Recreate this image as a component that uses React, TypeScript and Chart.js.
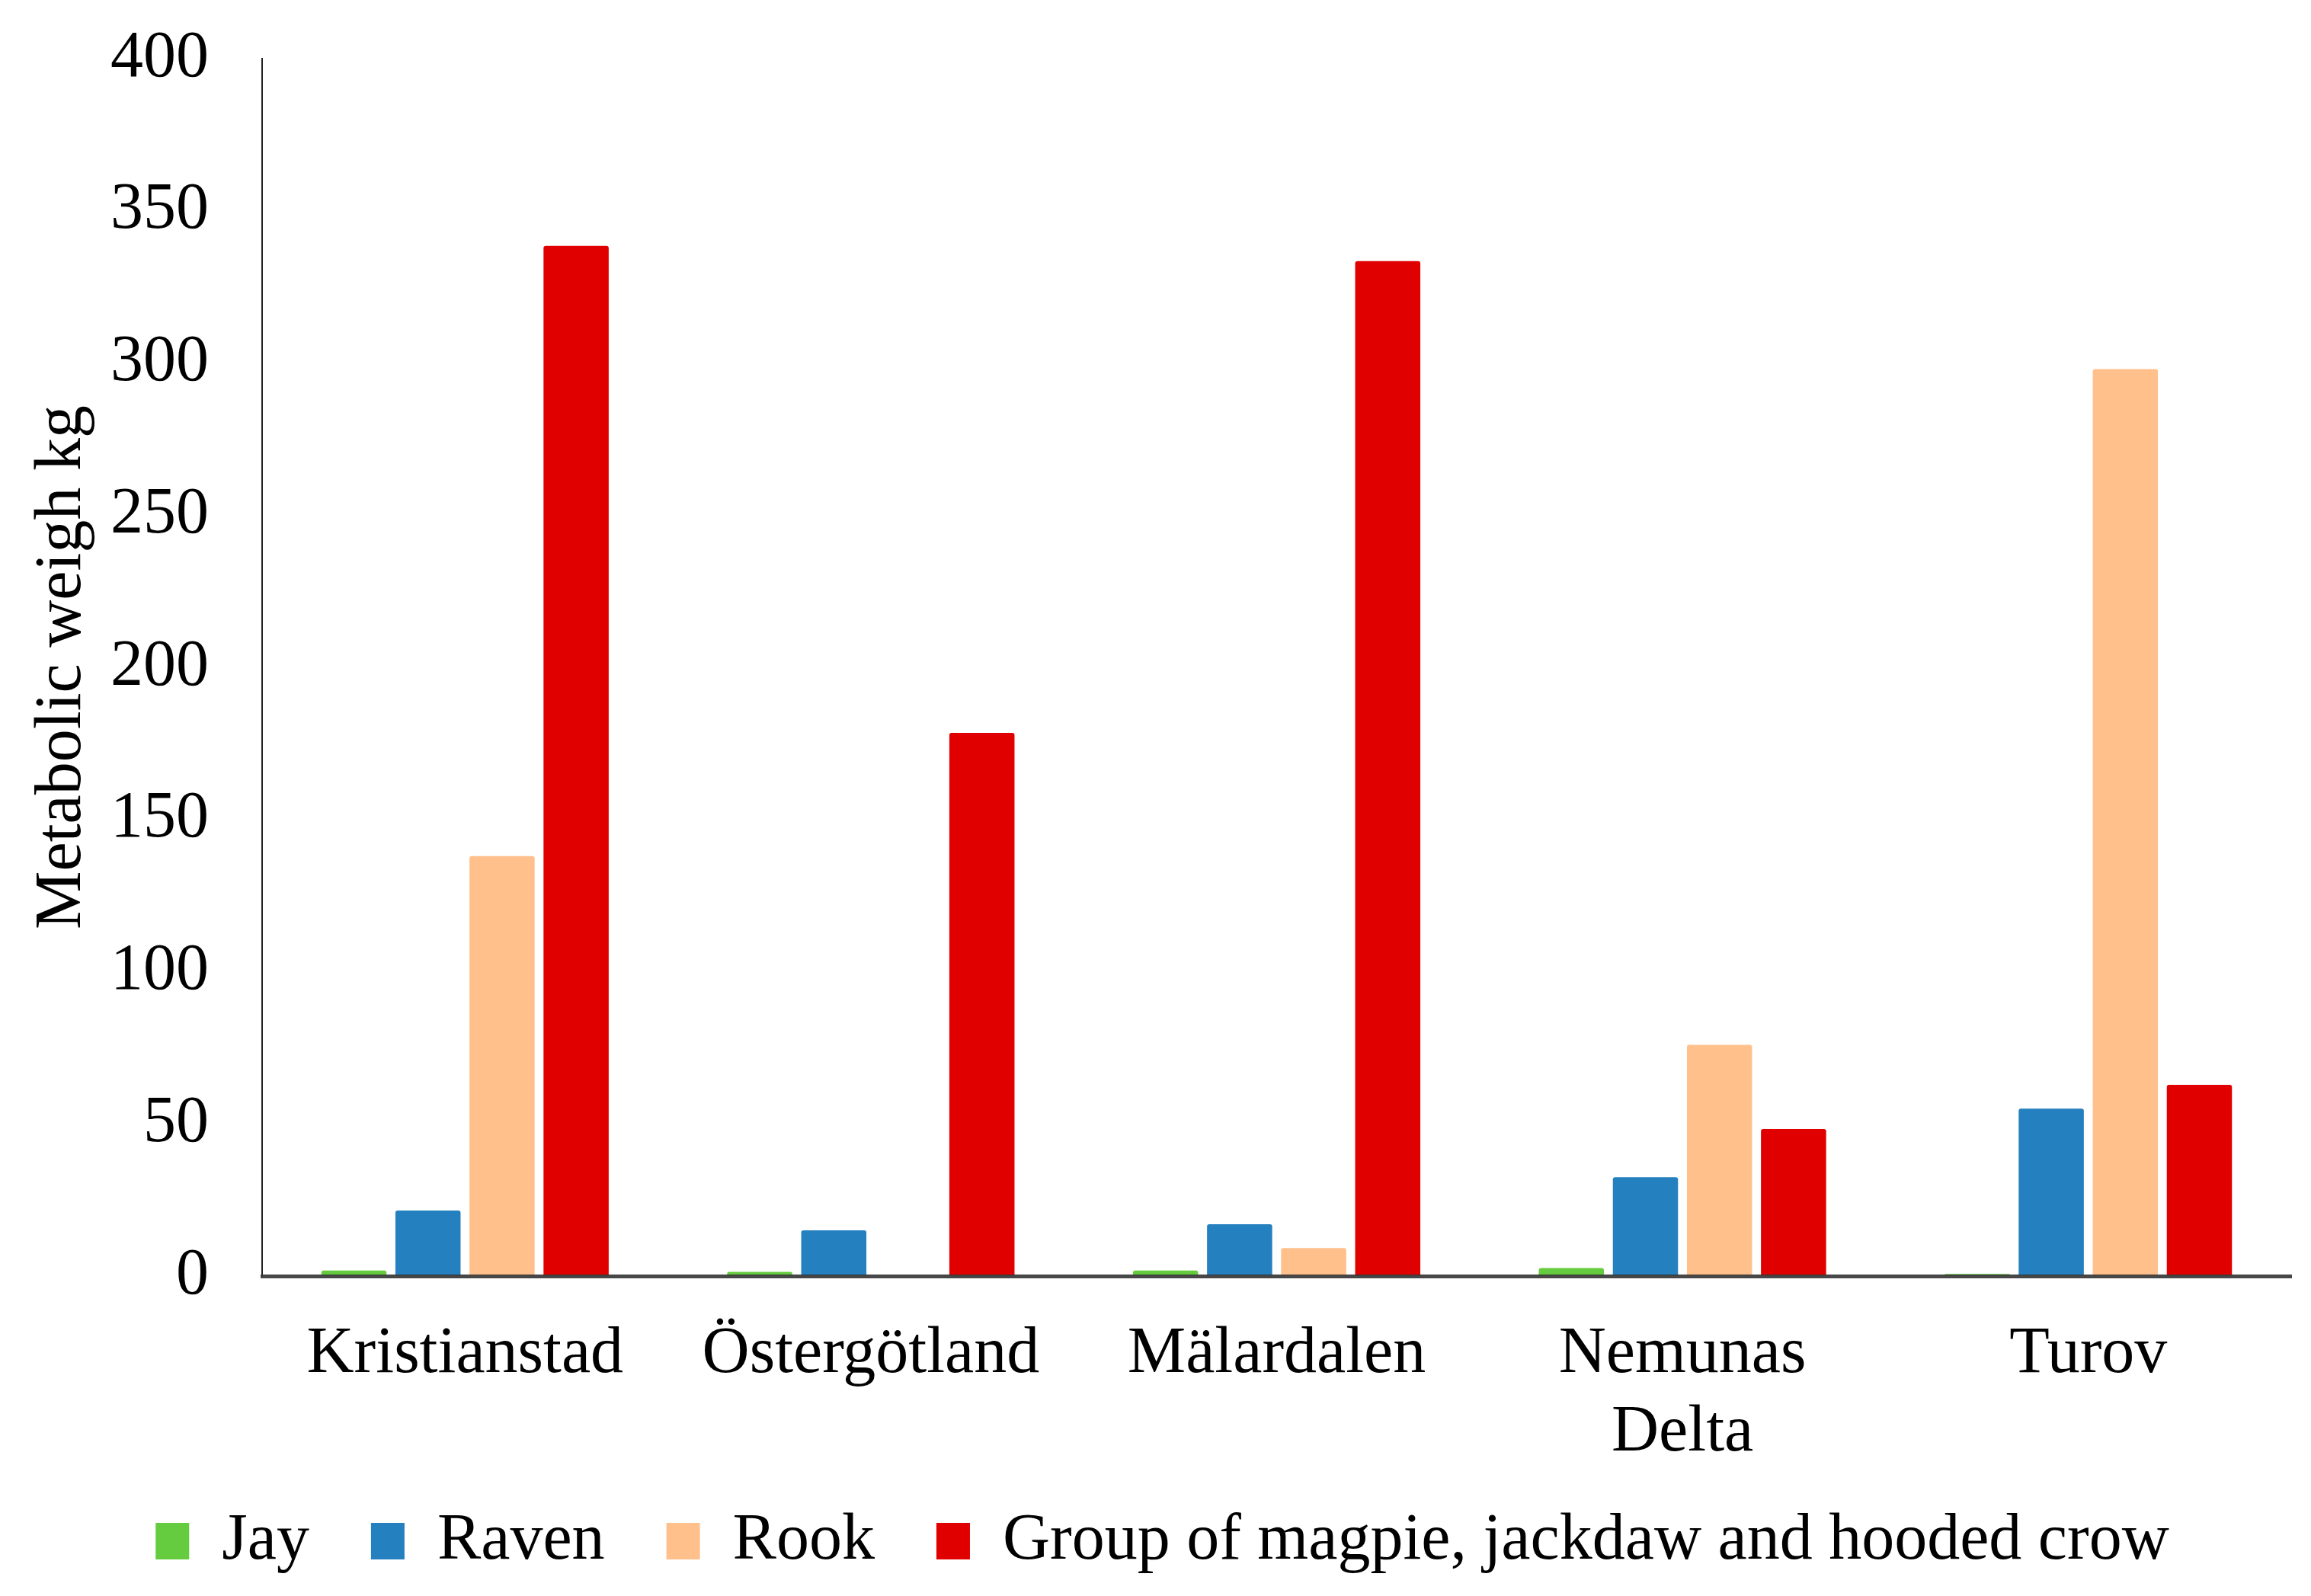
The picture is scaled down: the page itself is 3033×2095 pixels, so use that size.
import React, { useEffect, useRef } from "react";
import { Chart, registerables } from "chart.js";

Chart.register(...registerables);

const categories: (string | string[])[] = [
  "Kristianstad",
  "Östergötland",
  "Mälardalen",
  ["Nemunas", "Delta"],
  "Turov",
];
const jay = [1.8, 1.4, 1.8, 2.6, 0.7];
const raven = [21.5, 15, 17, 32.5, 55];
const rook = [138, 0, 9.2, 76, 298];
const group = [338.5, 178.5, 333.5, 48.3, 62.8];
const seriesNames = ["Jay", "Raven", "Rook", "Group of magpie, jackdaw and hooded crow"];
const seriesColors = ["#66CC3F", "#2580C0", "#FFC08C", "#E00000"];
const yMin = 0;
const yMax = 400;
const yStep = 50;
const yTitle = "Metabolic weigh kg";

const W = 3033;
const H = 2095;
const FONT = "'Liberation Serif', 'Times New Roman', serif";

export default function App() {
  const ref = useRef<HTMLCanvasElement | null>(null);

  useEffect(() => {
    if (!ref.current) return;
    const values = [jay, raven, rook, group];
    const chart = new Chart(ref.current, {
      type: "bar",
      data: {
        labels: categories as any,
        datasets: seriesNames.map((name, i) => ({
          label: name,
          data: values[i],
          backgroundColor: seriesColors[i],
          borderWidth: 0,
          borderRadius: 3,
          borderSkipped: "bottom",
          barPercentage: 0.88,
          categoryPercentage: 0.73,
        })),
      },
      options: {
        responsive: false,
        animation: false,
        devicePixelRatio: 1,
        layout: { padding: { top: 77, right: 26, bottom: 19, left: 44 } },
        plugins: {
          legend: {
            position: "bottom",
            labels: {
              font: { family: FONT, size: 86 },
              color: "#000",
              boxWidth: 44,
              boxHeight: 48,
              padding: 81,
            },
          },
          tooltip: { enabled: false },
        },
        scales: {
          x: {
            grid: { display: false, drawTicks: false },
            border: { display: true, color: "rgba(55,55,55,0.92)", width: 5, z: 1 },
            ticks: {
              font: { family: FONT, size: 86 },
              color: "#000",
              padding: 52,
              maxRotation: 0,
              autoSkip: false,
            },
            afterFit: (scale: any) => {
              scale.height = 224;
              scale._computeLabelArea = () => undefined;
            },
          },
          y: {
            min: yMin,
            max: yMax,
            grid: {
              display: true,
              drawOnChartArea: false,
              drawTicks: true,
              tickLength: 48,
              tickColor: "rgba(0,0,0,0)",
              color: "rgba(0,0,0,0)",
            },
            border: { display: true, color: "#222", width: 2 },
            ticks: {
              stepSize: yStep,
              font: { family: FONT, size: 86 },
              color: "#000",
              padding: 22,
            },
            title: {
              display: true,
              text: yTitle,
              font: { family: FONT, size: 86, lineHeight: 0.9 },
              color: "#000",
              padding: { top: 0, bottom: 0 },
            },
            afterFit: (scale: any) => {
              scale.width = 300;
            },
          },
        },
      },
    });
    return () => chart.destroy();
  }, []);

  return (
    <div
      style={{
        position: "fixed",
        left: 0,
        top: 0,
        width: W,
        height: H,
        background: "#fff",
      }}
    >
      <canvas ref={ref} width={W} height={H} style={{ width: W, height: H, display: "block" }} />
    </div>
  );
}
